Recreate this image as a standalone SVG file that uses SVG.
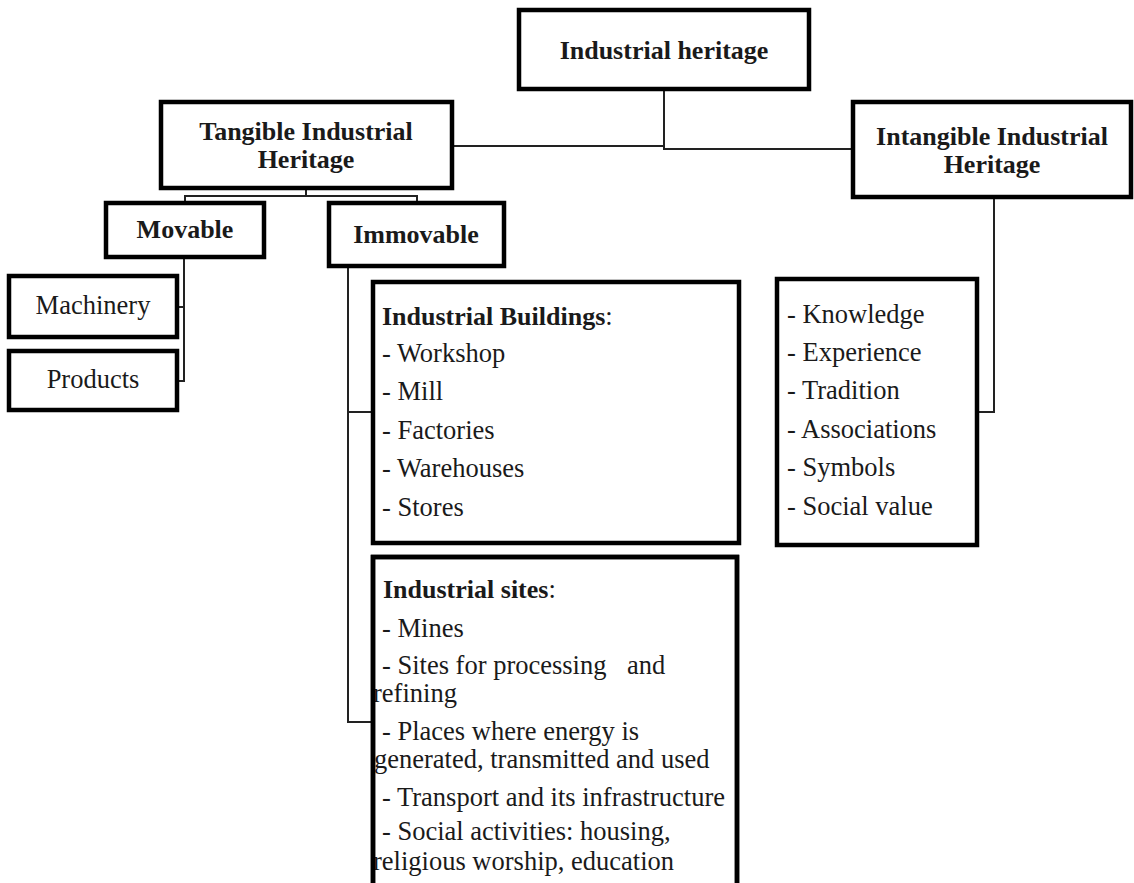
<svg xmlns="http://www.w3.org/2000/svg" width="1134" height="883" viewBox="0 0 1134 883">
<style>
.box{fill:#fff;stroke:#000;stroke-width:4.5}
.bx{fill:none;stroke:#000;stroke-width:4.5}
.ln{fill:none;stroke:#222;stroke-width:2}
.b{font-family:"Liberation Serif","Times New Roman",serif;font-weight:bold;font-size:26px;fill:#1a1a1a}
.r{font-family:"Liberation Serif","Times New Roman",serif;font-size:26.5px;fill:#1a1a1a}
.c{text-anchor:middle}
</style>
<rect width="1134" height="883" fill="#fff"/>
<g id="connectors">
<path class="ln" d="M452 146 H664 M664 89 V149 H853"/>
<path class="ln" d="M306 188 V196 M185 203 V196 H417 V203"/>
<path class="ln" d="M184 257 V381 H179 M184 307 H179"/>
<path class="ln" d="M348 266 V722 H373 M348 412 H373"/>
<path class="ln" d="M994 197 V412 H977"/>
</g>
<g id="industrial-heritage">
<rect class="box" x="519" y="10" width="290" height="79"/>
<text class="b c" x="664" y="59">Industrial  heritage</text>
</g>
<g id="tangible">
<rect class="box" x="161" y="102" width="291" height="86"/>
<text class="b c" x="306" y="140">Tangible Industrial</text>
<text class="b c" x="306" y="168">Heritage</text>
</g>
<g id="intangible">
<rect class="box" x="853" y="102" width="278" height="95"/>
<text class="b c" x="992" y="145">Intangible Industrial</text>
<text class="b c" x="992" y="173">Heritage</text>
</g>
<g id="movable">
<rect class="box" x="106" y="203" width="158" height="54"/>
<text class="b c" x="185" y="238">Movable</text>
</g>
<g id="immovable">
<rect class="box" x="329" y="203" width="175" height="63"/>
<text class="b c" x="416" y="243">Immovable</text>
</g>
<g id="machinery">
<rect class="box" x="9" y="276" width="168" height="61"/>
<text class="r c" x="93" y="314">Machinery</text>
</g>
<g id="products">
<rect class="box" x="9" y="351" width="168" height="59"/>
<text class="r c" x="93" y="388">Products</text>
</g>
<g id="industrial-buildings">
<rect class="box" x="373" y="282" width="366" height="261"/>
<text class="r" x="382" y="325"><tspan class="b">Industrial  Buildings</tspan>:</text>
<text class="r" x="382" y="362">- Workshop</text>
<text class="r" x="382" y="400">- Mill</text>
<text class="r" x="382" y="439">- Factories</text>
<text class="r" x="382" y="477">- Warehouses</text>
<text class="r" x="382" y="516">- Stores</text>
</g>
<g id="industrial-sites">
<rect class="box" x="373" y="557" width="364" height="340"/>
<text class="r" x="383" y="598"><tspan class="b">Industrial  sites</tspan>:</text>
<text class="r" x="382" y="637">- Mines</text>
<text class="r" x="382" y="674">- Sites for processing<tspan x="627">and</tspan></text>
<text class="r" x="373" y="702">refining</text>
<text class="r" x="382" y="740">- Places where energy is</text>
<text class="r" x="374" y="768">generated, transmitted and used</text>
<text class="r" x="382" y="806">- Transport and its infrastructure</text>
<text class="r" x="382" y="840">- Social activities: housing,</text>
<text class="r" x="373" y="870">religious worship, education</text>
<rect class="bx" x="373" y="557" width="364" height="340"/>
</g>
<g id="intangible-list">
<rect class="box" x="777" y="279" width="200" height="266"/>
<text class="r" x="787" y="323">- Knowledge</text>
<text class="r" x="787" y="361">- Experience</text>
<text class="r" x="787" y="399">- Tradition</text>
<text class="r" x="787" y="438">- Associations</text>
<text class="r" x="787" y="476">- Symbols</text>
<text class="r" x="787" y="515">- Social value</text>
</g>
</svg>
